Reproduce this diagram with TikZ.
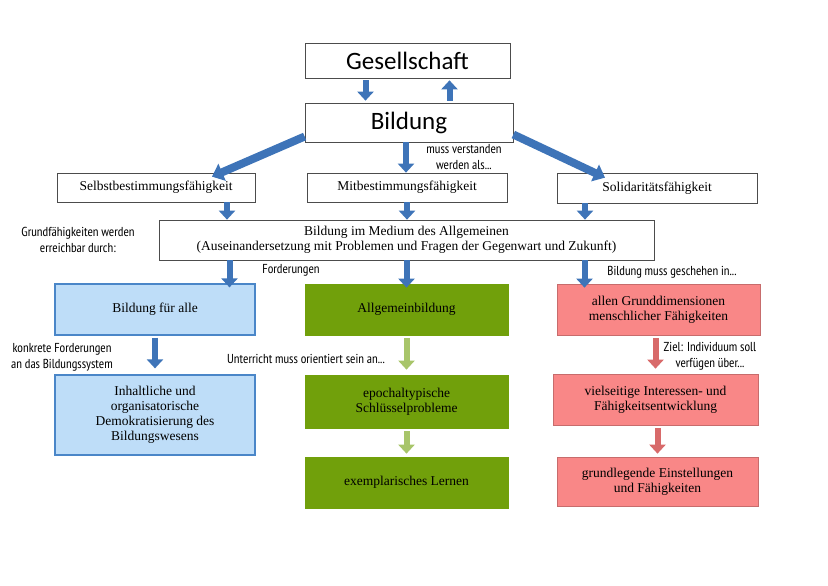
\documentclass[tikz,border=0pt]{standalone}
\usepackage{fontspec}
\setmainfont{Liberation Serif}
\newfontfamily\hand{PT Sans Narrow}[Scale=1]
\newfontfamily\sans{Carlito}
\usetikzlibrary{arrows.meta,calc}
\definecolor{ab}{HTML}{3E74B8}
\definecolor{lb}{HTML}{BEDDF8}
\definecolor{bb}{HTML}{4A86C8}
\definecolor{gr}{HTML}{71A00B}
\definecolor{lg}{HTML}{D5E7B0}
\definecolor{lgd}{HTML}{A8C56A}
\definecolor{rd}{HTML}{F98787}
\definecolor{rdd}{HTML}{D86A6A}
\begin{document}
\begin{tikzpicture}[x=1pt,y=-1pt,
 box/.style={draw=black!70,line width=0.7pt,inner sep=0,font=\fontsize{13.5}{15}\selectfont,align=center},
 big/.style={box,font=\sans\fontsize{25}{28}\selectfont},
 blue/.style={box,fill=lb,draw=bb,line width=1.2pt},
 green/.style={box,fill=gr,draw=gr},
 red/.style={box,fill=rd,draw=rd!80!black},
 ba/.style={draw=ab,line width=6pt,-{Triangle[width=16pt,length=9pt]}},
 da/.style={draw=ab,line width=8pt,-{Triangle[width=18pt,length=11pt]}},
 ga/.style={draw=lgd,line width=6pt,-{Triangle[width=16pt,length=9pt]}},
 ra/.style={draw=rdd,line width=6pt,-{Triangle[width=16pt,length=9pt]}},
 lbl/.style={font=\hand\fontsize{13}{16}\selectfont,align=center,inner sep=1pt}]
\useasboundingbox (0,0) rectangle (828,586);
\node[big,minimum width=205,minimum height=35] (gs) at (407.5,60.5) {Gesellschaft};
\node[big,minimum width=208,minimum height=39] (bi) at (409,122.5) {Bildung};
\node[box,minimum width=198,minimum height=29] (se) at (156,187.5) {Selbstbestimmungsfähigkeit};
\node[box,minimum width=200,minimum height=29] (mi) at (407,187.5) {Mitbestimmungsfähigkeit};
\node[box,minimum width=200,minimum height=30] (so) at (657,188) {Solidaritätsfähigkeit};
\node[box,minimum width=495,minimum height=40] (me) at (406.5,240) {Bildung im Medium des Allgemeinen\\(Auseinandersetzung mit Problemen und Fragen der Gegenwart und Zukunft)};
\node[blue,minimum width=200,minimum height=51] (fa) at (155,309.5) {Bildung für alle};
\node[blue,minimum width=200,minimum height=80] (in) at (155,415) {Inhaltliche und\\organisatorische\\Demokratisierung des\\Bildungswesens};
\node[green,minimum width=203,minimum height=51] (al) at (406.5,309.5) {Allgemeinbildung};
\node[green,minimum width=203,minimum height=53] (ep) at (406.5,401.5) {epochaltypische\\Schlüsselprobleme};
\node[green,minimum width=203,minimum height=51] (ex) at (406.5,482.5) {exemplarisches Lernen};
\node[red,minimum width=203,minimum height=51] (gd) at (658.5,309.5) {allen Grunddimensionen\\menschlicher Fähigkeiten};
\node[red,minimum width=205,minimum height=51] (vi) at (655.5,399.5) {vielseitige Interessen- und\\Fähigkeitsentwicklung};
\node[red,minimum width=201,minimum height=49] (gl) at (657.5,481.5) {grundlegende Einstellungen\\und Fähigkeiten};
% arrows
\draw[ba,shorten <=2pt,shorten >=2pt] ([xshift=-42]gs.south) -- ([xshift=-42]gs.south |- bi.north);
\draw[ba,shorten <=2pt,shorten >=2pt] ([xshift=42]gs.south |- bi.north) -- ([xshift=42]gs.south);
\draw[da] ([yshift=-14]bi.west) -- ([xshift=56,yshift=-4]se.north);
\draw[ba] ([xshift=-3]bi.south) -- ([xshift=-3]bi.south |- mi.north);
\draw[da] ([yshift=-12]bi.east) -- ([xshift=-52,yshift=-5]so.north);
\draw[ba] ([xshift=71]se.south) -- ([xshift=71]se.south |- me.north);
\draw[ba] (mi.south) -- (mi.south |- me.north);
\draw[ba] ([xshift=-72]so.south) -- ([xshift=-72]so.south |- me.north);
\draw[ba] ([xshift=-177]me.south) -- ([xshift=-177,yshift=-4]me.south |- fa.north);
\draw[ba] (me.south) -- ([yshift=-4]me.south |- al.north);
\draw[ba] ([xshift=178]me.south) -- ([xshift=178,yshift=-4]me.south |- gd.north);
\draw[ba,shorten <=2pt,shorten >=6pt] (fa.south) -- (in.north);
\draw[ga,shorten <=3pt,shorten >=5pt] (al.south) -- (ep.north);
\draw[ga,shorten <=3pt,shorten >=3pt] (ep.south) -- (ex.north);
\draw[ra,shorten <=3pt,shorten >=5pt] ([xshift=-3]gd.south) -- ([xshift=-3]gd.south |- vi.north);
\draw[ra,shorten <=3pt,shorten >=3pt] ([xshift=-1]gd.south |- vi.south) -- ([xshift=-1]gd.south |- gl.north);
% labels
\node[lbl] (l1) at (464,157) {muss verstanden\\werden als...};
\node[lbl] (l2) at (78,240) {Grundfähigkeiten werden\\erreichbar durch:};
\node[lbl] (l3) at (291,270) {Forderungen};
\node[lbl] (l4) at (672,272) {Bildung muss geschehen in...};
\node[lbl] (l5) at (62,357) {konkrete Forderungen\\an das Bildungssystem};
\node[lbl] (l6) at (306,359) {Unterricht muss orientiert sein an...};
\node[lbl] (l7) at (710,356) {Ziel: Individuum soll\\verfügen über...};
\end{tikzpicture}
\end{document}
